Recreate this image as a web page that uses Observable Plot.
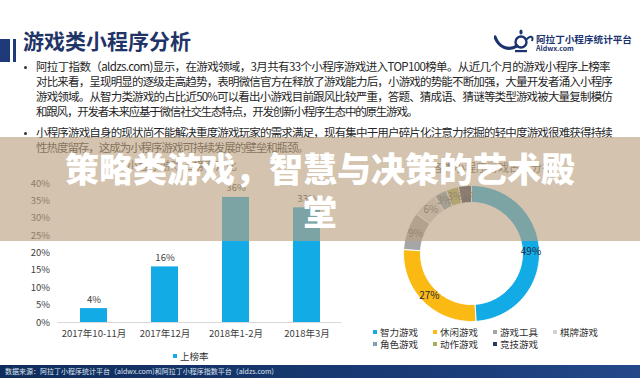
<!DOCTYPE html>
<html><head><meta charset="utf-8">
<script src="https://cdn.jsdelivr.net/npm/d3@7"></script>
<script src="https://cdn.jsdelivr.net/npm/@observablehq/plot@0.6"></script>
<style>
html,body{margin:0;padding:0;background:#fff;}
#page{position:relative;width:640px;height:378px;overflow:hidden;background:#fff;font-family:"Noto Sans CJK SC","Noto Sans",sans-serif;}
.abs{position:absolute;}
.fit{position:absolute;white-space:nowrap;font-size:11.5px;color:#262626;line-height:1;}
.dot{position:absolute;width:3px;height:3px;background:#333;border-radius:50%;}
.leg{position:absolute;font-size:9.5px;color:#333;white-space:nowrap;line-height:1;}
.leg i{display:inline-block;width:4px;height:4px;margin-right:3px;vertical-align:middle;position:relative;top:-1px;}
</style></head>
<body>
<div id="page">
  <div class="abs" style="left:0;top:39px;width:10px;height:23px;background:#1f3a78"></div>
  <div class="abs" style="left:13px;top:39px;width:3px;height:23px;background:#1f3a78"></div>
  <div class="abs" style="left:23px;top:30px;font-size:21px;font-weight:700;color:#1f3467;line-height:1;white-space:nowrap;">游戏类小程序分析</div>

  <svg class="abs" style="left:494px;top:27px" width="42" height="28" viewBox="0 0 42 28">
    <path d="M1,10 C5,21 15,24 23,19" stroke="#1b3470" stroke-width="3.2" fill="none" stroke-linecap="round"/>
    <circle cx="27" cy="15" r="5.5" stroke="#1b3470" stroke-width="2.4" fill="none"/>
    <ellipse cx="27" cy="5" rx="1.6" ry="2.6" fill="#1b3470"/>
    <path d="M32,13 C36,8 40,9 38,14" stroke="#1b3470" stroke-width="2" fill="none"/>
    <rect x="21" y="23" width="12" height="2.2" fill="#1b3470"/>
  </svg>
  <div class="abs" style="left:536px;top:35px;font-size:9.6px;font-weight:700;color:#1b3470;white-space:nowrap;line-height:1;">阿拉丁小程序统计平台</div>
  <div class="abs" style="left:536px;top:45px;font-size:7px;font-weight:700;color:#1b3470;white-space:nowrap;line-height:1;">Aldwx.com</div>

  <div class="dot" style="left:24px;top:66px"></div>
  <div class="fit" data-w="574" style="left:36px;top:61px">阿拉丁指数（aldzs.com)显示，在游戏领域，3月共有33个小程序游戏进入TOP100榜单。从近几个月的游戏小程序上榜率</div>
  <div class="fit" data-w="576" style="left:36px;top:76px">对比来看，呈现明显的逐级走高趋势，表明微信官方在释放了游戏能力后，小游戏的势能不断加强，大量开发者涌入小程序</div>
  <div class="fit" data-w="576" style="left:36px;top:91px">游戏领域。从智力类游戏的占比近50%可以看出小游戏目前跟风比较严重，答题、猜成语、猜谜等类型游戏被大量复制模仿</div>
  <div class="fit" data-w="381" style="left:36px;top:106px">和跟风，开发者未来应基于微信社交生态特点，开发创新小程序生态中的原生游戏。</div>
  <div class="dot" style="left:24px;top:132px"></div>
  <div class="fit" data-w="576" style="left:36px;top:127px">小程序游戏自身的现状尚不能解决重度游戏玩家的需求满足，现有集中于用户碎片化注意力挖掘的轻中度游戏很难获得持续</div>
  <div class="fit" data-w="272" style="left:36px;top:142px">性热度留存，这成为小程序游戏可持续发展的壁垒和瓶颈。</div>

  <div class="abs" style="left:127px;top:160px;font-size:11px;color:#595959;white-space:nowrap;line-height:1;">小程序游戏上榜率对比</div>
  <div class="abs" style="left:432px;top:162px;font-size:11px;color:#595959;white-space:nowrap;line-height:1;">各类小程序游戏占比分布</div>

  <div id="bar" class="abs" style="left:0;top:170px"></div>
  <div id="donut" class="abs" style="left:395px;top:180px"></div>
  <div id="donutLegend"></div>
  <div class="leg" style="left:173px;top:352px"><i style="background:#12abe6"></i>上榜率</div>

  <div class="abs" style="left:0;top:365px;width:640px;height:13px;background:linear-gradient(90deg,#102c5c,#1a3c78 70%,#24488a);"></div>
  <div class="abs" style="left:5px;top:368px;font-size:7px;color:#dde4ef;white-space:nowrap;line-height:1;">数据来源：阿拉丁小程序统计平台（aldwx.com)和阿拉丁小程序指数平台（aldzs.com)</div>

  <div class="abs" style="left:0;top:137px;width:640px;height:104px;background:rgba(187,160,127,0.63);"></div>
  <div class="abs" style="left:55px;top:146px;width:530px;text-align:center;font-size:34px;font-weight:900;color:#fff;line-height:43px;">策略类游戏，智慧与决策的艺术殿堂</div>
</div>
<script>
// ---- data ----
const months = ["2017年10-11月", "2017年12月", "2018年1-2月", "2018年3月"];
const rates = [4, 16, 36, 33];
const yTicks = [0, 5, 10, 15, 20, 25, 30, 35, 40];

const types = ["智力游戏", "休闲游戏", "游戏工具", "棋牌游戏", "角色游戏", "动作游戏", "竞技游戏"];
const shares = [49, 27, 9, 6, 3, 3, 3];
const typeColors = ["#12abe6", "#fbb913", "#a6a6a6", "#d2d2d2", "#7f9fb8", "#a3ad5c", "#2b3a55"];

const fontFam = '"Noto Sans CJK SC","Noto Sans",sans-serif';

// ---- bar chart ----
const barData = months.map((m, i) => ({m, v: rates[i]}));
const bar = Plot.plot({
  width: 345, height: 180,
  marginLeft: 57.5, marginRight: 3.5, marginTop: 13, marginBottom: 28,
  style: {fontFamily: fontFam, fontSize: "9.5px", color: "#404040", background: "transparent", overflow: "visible"},
  x: {domain: months, paddingInner: 0.62, paddingOuter: 0.31, label: null, tickSize: 0, tickPadding: 8},
  y: {domain: [0, 40], ticks: yTicks, tickFormat: d => d + "%", label: null, tickSize: 0, tickPadding: 8},
  marks: [
    Plot.barY(barData, {x: "m", y: "v", fill: "#12abe6"}),
    Plot.ruleY([0], {stroke: "#d9d9d9"}),
    Plot.text(barData, {x: "m", y: "v", text: d => d.v + "%", dy: -9, fontSize: 9.5, fill: "#404040"})
  ]
});
document.getElementById("bar").appendChild(bar);

// ---- donut ----
const pie = d3.pie().sort(null).value(d => d)(shares);
const rOut = 1, rIn = 0.75;
const segs = pie.map((p, i) => {
  const pts = [];
  const n = Math.max(4, Math.ceil((p.endAngle - p.startAngle) / 0.03));
  for (let k = 0; k <= n; k++) {
    const a = p.startAngle + (p.endAngle - p.startAngle) * k / n;
    pts.push({x: rOut * Math.sin(a), y: rOut * Math.cos(a)});
  }
  for (let k = n; k >= 0; k--) {
    const a = p.startAngle + (p.endAngle - p.startAngle) * k / n;
    pts.push({x: rIn * Math.sin(a), y: rIn * Math.cos(a)});
  }
  return pts;
});
const labels = pie.map((p, i) => {
  const a = (p.startAngle + p.endAngle) / 2, r = (rOut + rIn) / 2;
  return {x: r * Math.sin(a), y: r * Math.cos(a), t: shares[i] + "%", big: i < 2};
});
const donut = Plot.plot({
  width: 152, height: 148,
  marginLeft: 8, marginRight: 8, marginTop: 5, marginBottom: 7,
  style: {fontFamily: fontFam, background: "transparent", overflow: "visible"},
  x: {domain: [-1, 1], axis: null},
  y: {domain: [-1, 1], axis: null},
  marks: [
    ...segs.map((pts, i) => Plot.line(pts, {x: "x", y: "y", fill: typeColors[i], stroke: "#fff", strokeWidth: 1, curve: "linear-closed"})),
    Plot.text(labels, {x: "x", y: "y", text: "t", fontSize: 10, fill: d => d.big ? "#1e2a40" : "#595959"})
  ]
});
document.getElementById("donut").appendChild(donut);

// donut legend
const legCols = [375, 435, 495, 555];
const legHost = document.getElementById("donutLegend");
types.forEach((t, i) => {
  const row = i < 4 ? 0 : 1, col = i < 4 ? i : i - 4;
  const el = document.createElement("div");
  el.className = "leg";
  el.style.left = (legCols[col] - 2) + "px";
  el.style.top = (row ? 340 : 328) + "px";
  el.innerHTML = `<i style="background:${typeColors[i]}"></i>${t}`;
  legHost.appendChild(el);
});

// fit bullet lines to widths
document.querySelectorAll(".fit").forEach(el => {
  const target = +el.dataset.w;
  const w = el.getBoundingClientRect().width;
  const n = [...el.textContent].length;
  el.style.letterSpacing = ((target - w) / n) + "px";
});
</script>
</body></html>
